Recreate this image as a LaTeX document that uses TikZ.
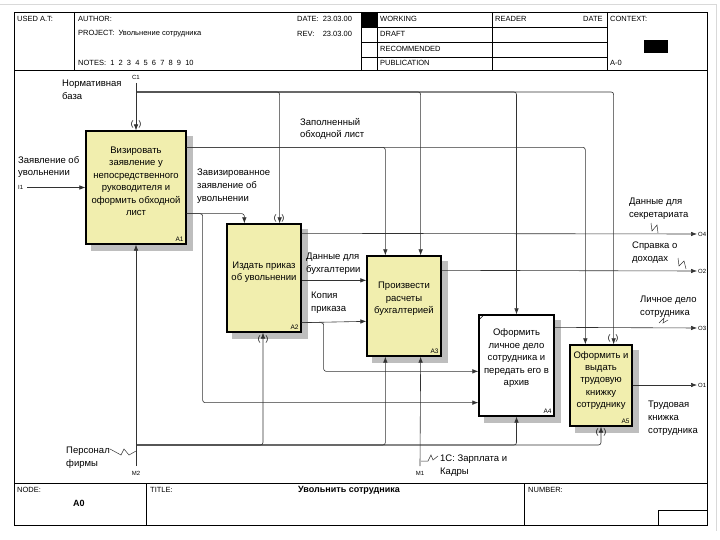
\documentclass[tikz,border=0pt]{standalone}
\usepackage{fontspec}
\setmainfont{Liberation Sans}
\usetikzlibrary{arrows.meta,positioning,calc,backgrounds}
\definecolor{actfill}{RGB}{241,238,174}
\definecolor{wirecol}{RGB}{50,50,50}
\definecolor{shadowcol}{RGB}{190,190,190}

\begin{document}
\begin{tikzpicture}[x=1pt,y=-1pt,
    act/.style={draw,line width=1.3pt,fill=actfill,inner sep=0pt},
    acttext/.style={align=center,font=\fontsize{9.5}{12.5}\selectfont,inner sep=0pt},
    boxno/.style={font=\fontsize{6.5}{7}\selectfont,inner sep=0pt,anchor=south east},
    wire/.style={draw=wirecol,line width=0.6pt,rounded corners=2.5pt},
    arr/.style={wire,-{Latex[length=6pt,width=4.5pt]}},
    lbl/.style={align=left,anchor=west,font=\fontsize{9.5}{12.8}\selectfont,inner sep=0pt},
    code/.style={font=\fontsize{6}{7}\selectfont,inner sep=0pt},
    hdr/.style={anchor=west,font=\fontsize{7.5}{8}\selectfont,inner sep=0pt},
    tun/.style={font=\fontsize{8}{8}\selectfont,inner sep=0pt},
    squig/.style={draw=wirecol,line width=0.5pt}
  ]
  \useasboundingbox (0,0) rectangle (720,540);
  \draw[gray!30] (0,4) -- (716,4) -- (716,531);

  % frame, header and footer
  \draw[line width=0.7pt] (14,12) rectangle (707,525);
  \draw[line width=0.7pt] (14,70) -- (707,70);
  \draw[line width=0.7pt] (14,483) -- (707,483);
  \foreach \x in {74,361,377,492,607}
    \draw[line width=0.7pt] (\x,12) -- (\x,70);
  \foreach \y in {27,42,57}
    \draw[line width=0.8pt] (361,\y) -- (607,\y);
  \fill (361,12) rectangle (377,27);
  \fill (644,40) rectangle (668,53);
  \foreach \x in {146,524}
    \draw[line width=0.7pt] (\x,483) -- (\x,525);
  \draw[line width=0.7pt] (658,510) rectangle (707,525);

  \foreach \px/\py/\t [count=\i] in {
      17/19/{USED A.T:}, 78/19/{AUTHOR:}, 297/19/{DATE:\ \ 23.03.00},
      78/34/{PROJECT:\ \ Увольнение сотрудника}, 297/34/{REV:\ \ \ \ 23.03.00},
      78/63/{NOTES:\ \ 1\ \ 2\ \ 3\ \ 4\ \ 5\ \ 6\ \ 7\ \ 8\ \ 9\ \ 10},
      380/19/WORKING, 380/34/DRAFT, 380/49/RECOMMENDED, 380/63/PUBLICATION,
      495/19/READER, 583/19/DATE, 610/19/{CONTEXT:}, 610/63/{A-0},
      17/490/{NODE:}, 150/490/{TITLE:}, 528/490/{NUMBER:}}
    \node[hdr] (hd\i) at (\px,\py) {\t};
  \node[font=\bfseries\fontsize{9}{10}\selectfont] (node0) at (79,503) {A0};
  \node[font=\bfseries\fontsize{9}{10}\selectfont] (title) at (349,490) {Увольнить сотрудника};

  % activities
  \node[act,minimum width=100,minimum height=113] (A1) at (136,187.5) {};
  \node[act,minimum width=74,minimum height=108] (A2) at (264,278) {};
  \node[act,minimum width=74,minimum height=100] (A3) at (404,306) {};
  \node[act,fill=white,minimum width=75,minimum height=101] (A4) at (516.5,365.5) {};
  \node[act,minimum width=62,minimum height=81] (A5) at (601,385.5) {};
  \begin{scope}[on background layer]
    \foreach \b in {A1,A2,A3,A4,A5}
      \fill[shadowcol] ($(\b.north west)+(6,6)$) rectangle ($(\b.south east)+(6,6)$);
  \end{scope}

  \node[acttext] (A1t) at ($(A1)+(0,-6)$) {Визировать\\заявление у\\непосредственного\\руководителя и\\оформить обходной\\лист};
  \node[acttext] (A2t) at ($(A2)+(0,-6)$) {Издать приказ\\об увольнении};
  \node[acttext] (A3t) at ($(A3)+(0,-7)$) {Произвести\\расчеты\\бухгалтерией};
  \node[acttext] (A4t) at ($(A4)+(0,-7)$) {Оформить\\личное дело\\сотрудника и\\передать его в\\архив};
  \node[acttext,font=\fontsize{9.5}{12.2}\selectfont] (A5t) at ($(A5)+(0,-5)$) {Оформить и\\выдать\\трудовую\\книжку\\сотруднику};
  \foreach \b in {A1,A2,A3,A4,A5}
    \node[boxno] (\b n) at ($(\b.south east)+(-3,-3)$) {\b};
  \draw[line width=0.5pt] ($(A4.north west)+(1,5)$) -- ($(A4.north west)+(5,1)$);

  % boundary ends
  \coordinate (i1) at (27,187.5);
  \coordinate (c1) at (136,83);
  \coordinate (c1bus) at (136,92);
  \coordinate (m2) at (136,466);
  \coordinate (m2bus) at (136,445);
  \coordinate (m1) at (420,466);
  \coordinate (o4) at (697,234);
  \coordinate (o2) at (697,271);
  \coordinate (o3) at (697,328);
  \coordinate (o1) at (697,385);

  % inputs and controls
  \draw[arr] (i1) -- (A1.west |- i1);
  \draw[arr] (c1) -- (A1.north);
  \draw[arr] (c1bus) -| ($(A2.north east)+(-22,0)$);
  \draw[arr] (c1bus) -| ($(A3.north east)+(-21,0)$);
  \draw[arr] (c1bus) -| (A4.north);
  \draw[arr] (c1bus) -| ($(A5.north east)+(-19,0)$);

  % A1 outputs
  \draw[arr] ($(A1.north east)+(0,17)$) -| ($(A3.north west)+(19,0)$);
  \draw[arr] ($(A1.north east)+(0,17)$) -| ($(A5.north west)+(16,0)$);
  \draw[arr] ($(A1.south east)+(0,-31)$) -| ($(A2.north west)+(18,0)$);
  \draw[arr] ($(A1.south east)+(0,-31)$) -- ++(16,0) |- ($(A4.south west)+(0,-14)$);

  % A2 outputs
  \draw[arr] ($(A2.north east)+(0,10)$) -- (o4);
  \draw[arr] ($(A2.north east)+(0,57)$) -- ($(A3.north west)+(0,25)$);
  \draw[arr] ($(A2.south east)+(0,-10)$) -- ($(A3.north west)+(0,66)$);
  \draw[arr] ($(A2.south east)+(0,-10)$) -- ++(22,0) |- ($(A4.north west)+(0,57)$);

  % remaining outputs
  \draw[arr] ($(A3.north east)+(0,15)$) -- (o2);
  \draw[arr] ($(A4.north east)+(0,13)$) -- (o3);
  \draw[arr] (A5.east |- o1) -- (o1);

  % mechanisms
  \draw[arr] (m2) -- (A1.south);
  \draw[arr] (m2bus) -| ($(A2.south)+(-1,0)$);
  \draw[arr] (m2bus) -| ($(A3.south west)+(19,0)$);
  \draw[arr] (m2bus) -| (A4.south);
  \draw[arr] (m2bus) -| (A5.south);
  \draw[arr] (m1) -- ($(A3.south east)+(-21,0)$);

  % tunnel marks
  \foreach \p [count=\i] in {(136,124),(279,218),(263,339),(613,338),(601,432)}
    \node[tun] (tn\i) at \p {(\hspace{5pt})};

  % arrow labels
  \node[lbl] (l1) at (18,167) {Заявление об\\увольнении};
  \node[lbl] (l2) at (62,90) {Нормативная\\база};
  \node[lbl] (l3) at (300,129) {Заполненный\\обходной лист};
  \node[lbl] (l4) at (197,186) {Завизированное\\заявление об\\увольнении};
  \node[lbl] (l5) at (306,264) {Данные для\\бухгалтерии};
  \node[lbl] (l6) at (311,303) {Копия\\приказа};
  \node[lbl] (l7) at (629,209) {Данные для\\секретариата};
  \node[lbl] (l8) at (632,253) {Справка о\\доходах};
  \node[lbl] (l9) at (640,307) {Личное дело\\сотрудника};
  \node[lbl] (l10) at (648,418) {Трудовая\\книжка\\сотрудника};
  \node[lbl] (l11) at (66,458) {Персонал\\фирмы};
  \node[lbl] (l12) at (440,466) {1С: Зарплата и\\Кадры};

  % ICOM codes
  \node[code,anchor=west] (ci1) at (18,187.5) {I1};
  \node[code] (cc1) at (136,77) {C1};
  \node[code] (cm2) at (136,473) {M2};
  \node[code] (cm1) at (420,473) {M1};
  \foreach \o/\t in {o4/O4,o2/O2,o3/O3,o1/O1}
    \node[code,anchor=west] (c\o) at ($(\o)+(1,0)$) {\t};

  % squiggles
  \draw[squig] (651,223) -- (652,231) -- (657,225) -- (658,233);
  \draw[squig] (678,258) -- (679,266) -- (684,261) -- (686,269);
  \draw[squig] (659,323) -- (664,318) -- (663,323) -- (668,320);
  \draw[squig] (110,449) -- (121,455) -- (124,449) -- (129,455) -- (136,451);
  \draw[squig] (421,461) -- (428,461) -- (431,455) -- (433,460) -- (438,456);
\end{tikzpicture}
\end{document}
